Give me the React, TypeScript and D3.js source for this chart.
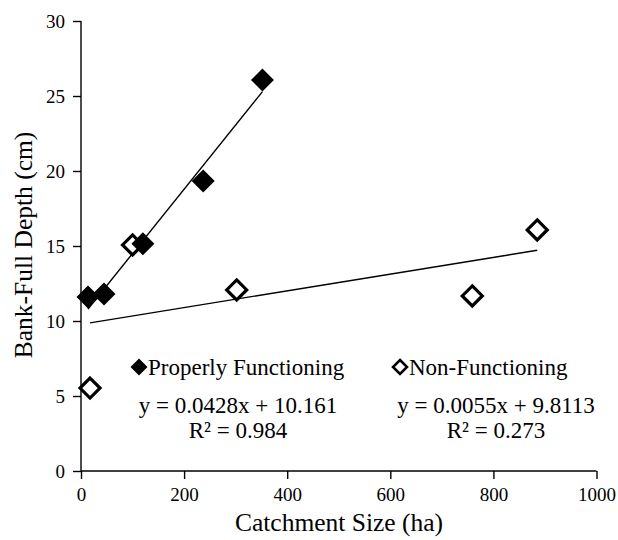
import React, { useEffect, useRef } from 'react';
import * as d3 from 'd3';

// values
const properX = [13.6, 44.6, 120, 237, 352];
const properY = [11.6, 11.8, 15.15, 19.33, 26.07];
const nonX = [17.5, 100, 302, 759, 885];
const nonY = [5.53, 15.07, 12.07, 11.67, 16.07];
const seriesNames = ['Properly Functioning', 'Non-Functioning'];
const equations = ['y = 0.0428x + 10.161', 'y = 0.0055x + 9.8113'];
const rSquared = ['R\u00b2 = 0.984', 'R\u00b2 = 0.273'];
const xTicks = [0, 200, 400, 600, 800, 1000];
const yTicks = [0, 5, 10, 15, 20, 25, 30];

const FONT = "'Liberation Serif', 'Times New Roman', serif";

// least squares fit, like Excel's linear trendline
function fit(xs: number[], ys: number[]) {
  const mx = d3.mean(xs)!;
  const my = d3.mean(ys)!;
  const sxy = d3.sum(xs, (x, i) => (x - mx) * (ys[i] - my));
  const sxx = d3.sum(xs, x => (x - mx) * (x - mx));
  const slope = sxy / sxx;
  return { slope, intercept: my - slope * mx };
}

const diamond = (r: number) => `M0,${-r}L${r},0L0,${r}L${-r},0Z`;

const App = () => {
  const chartRef = useRef<SVGSVGElement>(null);

  useEffect(() => {
    if (!chartRef.current) return;
    const svg = d3.select(chartRef.current);
    svg.selectAll('*').remove();

    const width = 618;
    const height = 540;
    const margin = { top: 21, right: 21.5, bottom: 69, left: 81 };

    const x = d3.scaleLinear().domain([0, 1000]).range([margin.left, width - margin.right]);
    const y = d3.scaleLinear().domain([0, 30]).range([height - margin.bottom, margin.top]);

    // y axis
    const yAxis = svg.append('g')
      .attr('transform', `translate(${margin.left},0)`)
      .call(d3.axisLeft(y).tickValues(yTicks).tickFormat(d3.format('d')).tickSize(8).tickPadding(8));
    // x axis
    const xAxis = svg.append('g')
      .attr('transform', `translate(0,${height - margin.bottom})`)
      .call(d3.axisBottom(x).tickValues(xTicks).tickFormat(d3.format('d')).tickSize(8).tickPadding(9));

    [xAxis, yAxis].forEach(ax => {
      ax.attr('font-family', FONT).attr('font-size', 19);
      ax.select('.domain').attr('stroke', '#000').attr('stroke-width', 1.4);
      ax.selectAll('.tick line').attr('stroke', '#000').attr('stroke-width', 1.4);
      ax.selectAll('.tick text')
        .attr('fill', '#000')
        .attr('font-family', FONT)
        .attr('font-size', 19);
    });
    // drop the outer end ticks of d3's domain path
    xAxis.select('.domain').attr('d', `M${x(0)},0H${x(1000)}`);
    yAxis.select('.domain').attr('d', `M0,${y(0)}V${y(30)}`);

    // trendlines
    const series = [
      { xs: properX, ys: properY },
      { xs: nonX, ys: nonY },
    ];
    series.forEach(s => {
      const { slope, intercept } = fit(s.xs, s.ys);
      const ends = d3.extent(s.xs) as [number, number];
      svg.append('path')
        .datum(ends)
        .attr('fill', 'none')
        .attr('stroke', '#000')
        .attr('stroke-width', 1.4)
        .attr('d', d3.line<number>().x(d => x(d)).y(d => y(slope * d + intercept)));
    });

    // open diamonds first, filled ones on top
    svg.append('g').selectAll('path')
      .data(nonX)
      .enter()
      .append('path')
      .attr('d', diamond(10))
      .attr('transform', (d, i) => `translate(${x(d)},${y(nonY[i])})`)
      .attr('fill', '#fff')
      .attr('stroke', '#000')
      .attr('stroke-width', 3.2);

    svg.append('g').selectAll('path')
      .data(properX)
      .enter()
      .append('path')
      .attr('d', diamond(11.5))
      .attr('transform', (d, i) => `translate(${x(d)},${y(properY[i])})`)
      .attr('fill', '#000');

    // legend + equations
    const legend = [
      { mx: 139, tx: 148, cx: 238, open: false },
      { mx: 400, tx: 409, cx: 496, open: true },
    ];
    legend.forEach((l, i) => {
      svg.append('path')
        .attr('d', diamond(l.open ? 7 : 8.5))
        .attr('transform', `translate(${l.mx},367)`)
        .attr('fill', l.open ? '#fff' : '#000')
        .attr('stroke', l.open ? '#000' : 'none')
        .attr('stroke-width', 2.6);
      svg.append('text')
        .attr('x', l.tx)
        .attr('y', 375)
        .attr('font-family', FONT)
        .attr('font-size', 23)
        .text(seriesNames[i]);
      svg.append('text')
        .attr('x', l.cx)
        .attr('y', 413)
        .attr('text-anchor', 'middle')
        .attr('font-family', FONT)
        .attr('font-size', 23)
        .text(equations[i]);
      svg.append('text')
        .attr('x', l.cx)
        .attr('y', 438)
        .attr('text-anchor', 'middle')
        .attr('font-family', FONT)
        .attr('font-size', 23)
        .text(rSquared[i]);
    });

    // axis titles
    svg.append('text')
      .attr('x', 339)
      .attr('y', 531)
      .attr('text-anchor', 'middle')
      .attr('font-family', FONT)
      .attr('font-size', 25.5)
      .text('Catchment Size (ha)');
    svg.append('text')
      .attr('transform', 'translate(32,245) rotate(-90)')
      .attr('text-anchor', 'middle')
      .attr('font-family', FONT)
      .attr('font-size', 25.5)
      .text('Bank-Full Depth (cm)');
  }, []);

  return (
    <svg
      ref={chartRef}
      width={618}
      height={540}
      style={{ position: 'absolute', left: 0, top: 0, background: '#fff' }}
    />
  );
};

export default App;
